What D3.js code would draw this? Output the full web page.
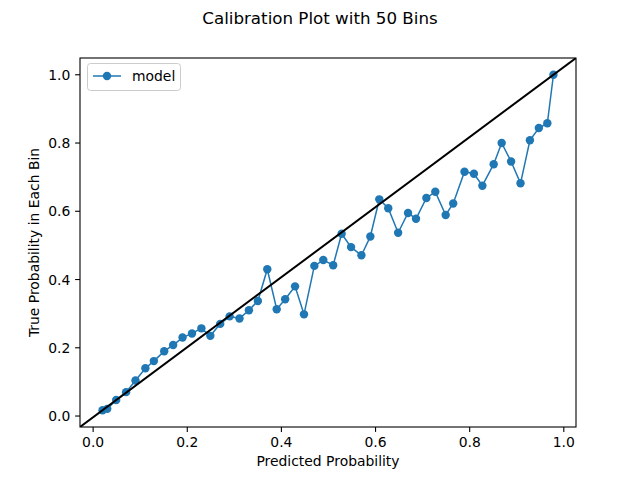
<!DOCTYPE html>
<html><head><meta charset="utf-8">
<script src="https://cdn.jsdelivr.net/npm/d3@7"></script>
<style>body{margin:0;background:#fff}svg{display:block}text{font-family:"DejaVu Sans",sans-serif;fill:#000}</style>
</head><body><svg id="c" width="640" height="480"></svg>
<script>
const predicted = [0.020,0.030,0.049,0.070,0.090,0.111,0.129,0.151,0.170,0.190,0.210,0.230,0.249,0.270,0.290,0.311,0.331,0.350,0.370,0.390,0.408,0.429,0.448,0.470,0.489,0.510,0.528,0.548,0.570,0.589,0.608,0.627,0.648,0.669,0.686,0.708,0.727,0.749,0.765,0.789,0.809,0.827,0.851,0.868,0.888,0.908,0.928,0.947,0.965,0.978];
const observed  = [0.017,0.021,0.047,0.070,0.104,0.140,0.161,0.190,0.208,0.230,0.242,0.257,0.235,0.270,0.292,0.286,0.310,0.337,0.430,0.313,0.342,0.380,0.298,0.440,0.457,0.442,0.534,0.495,0.471,0.526,0.635,0.609,0.537,0.595,0.578,0.639,0.657,0.589,0.623,0.716,0.710,0.675,0.738,0.800,0.746,0.682,0.808,0.844,0.858,1.000];
const xTicks = [0,0.2,0.4,0.6,0.8,1.0];
const yTicks = [0,0.2,0.4,0.6,0.8,1.0];
const diagonalAxesFraction = [0,1];
const title = "Calibration Plot with 50 Bins";
const xLabel = "Predicted Probability";
const yLabel = "True Probability in Each Bin";
const seriesName = "model";

const svg = d3.select("#c");
const L=80,R=576,T=58,B=427;
const color="#1f77b4";
const xmin=d3.min(predicted),xmax=d3.max(predicted),ymin=d3.min(observed),ymax=d3.max(observed);
const xm=(xmax-xmin)*0.05, ym=(ymax-ymin)*0.05;
const x=d3.scaleLinear().domain([xmin-xm,xmax+xm]).range([L,R]);
const y=d3.scaleLinear().domain([ymin-ym,ymax+ym]).range([B,T]);
// axes-fraction scales for the corner-to-corner reference line
const ax=d3.scaleLinear().domain([0,1]).range([L,R]);
const ay=d3.scaleLinear().domain([0,1]).range([B,T]);

svg.append("defs").append("clipPath").attr("id","clip").append("rect").attr("x",L).attr("y",T).attr("width",R-L).attr("height",B-T);

const g=svg.append("g").attr("clip-path","url(#clip)");
const data=predicted.map((p,i)=>[p,observed[i]]);
g.append("path").datum(data).attr("fill","none").attr("stroke",color).attr("stroke-width",1.5)
 .attr("d",d3.line().x(d=>x(d[0])).y(d=>y(d[1])));
g.selectAll("circle").data(data).join("circle").attr("cx",d=>x(d[0])).attr("cy",d=>y(d[1])).attr("r",4.2).attr("fill",color);
g.append("path").datum(diagonalAxesFraction).attr("fill","none").attr("stroke","#000").attr("stroke-width",2)
 .attr("d",d3.line().x(d=>ax(d)).y(d=>ay(d)));

svg.append("rect").attr("x",L).attr("y",T).attr("width",R-L).attr("height",B-T).attr("fill","none").attr("stroke","#000").attr("stroke-width",1.1);

const fmt=d3.format(".1f");
const xa=svg.append("g");
xTicks.forEach(t=>{
  xa.append("line").attr("x1",x(t)).attr("x2",x(t)).attr("y1",B).attr("y2",B+4.9).attr("stroke","#000").attr("stroke-width",1.1);
  xa.append("text").attr("x",x(t)).attr("y",B+9.7).attr("dy","0.76em").attr("text-anchor","middle").attr("font-size","13.9px").text(fmt(t));
});
const ya=svg.append("g");
yTicks.forEach(t=>{
  ya.append("line").attr("x1",L-4.9).attr("x2",L).attr("y1",y(t)).attr("y2",y(t)).attr("stroke","#000").attr("stroke-width",1.1);
  ya.append("text").attr("x",L-9.7).attr("y",y(t)).attr("dy","0.36em").attr("text-anchor","end").attr("font-size","13.9px").text(fmt(t));
});

svg.append("text").attr("x",(L+R)/2).attr("y",466).attr("text-anchor","middle").attr("font-size","13.9px").text(xLabel);
svg.append("text").attr("transform",`translate(38.5,${(T+B)/2}) rotate(-90)`).attr("text-anchor","middle").attr("font-size","13.9px").text(yLabel);
svg.append("text").attr("x",320).attr("y",24).attr("text-anchor","middle").attr("font-size","16.7px").text(title);

// legend
const lg=svg.append("g");
lg.append("rect").attr("x",87.5).attr("y",63.5).attr("width",93).attr("height",27).attr("rx",3).attr("fill","#fff").attr("stroke","#ccc").attr("stroke-width",1);
lg.append("line").attr("x1",93).attr("x2",121).attr("y1",76).attr("y2",76).attr("stroke",color).attr("stroke-width",1.5);
lg.append("circle").attr("cx",107).attr("cy",76).attr("r",4.2).attr("fill",color);
lg.append("text").attr("x",132).attr("y",76).attr("dy","0.36em").attr("font-size","13.9px").text(seriesName);
</script></body></html>
